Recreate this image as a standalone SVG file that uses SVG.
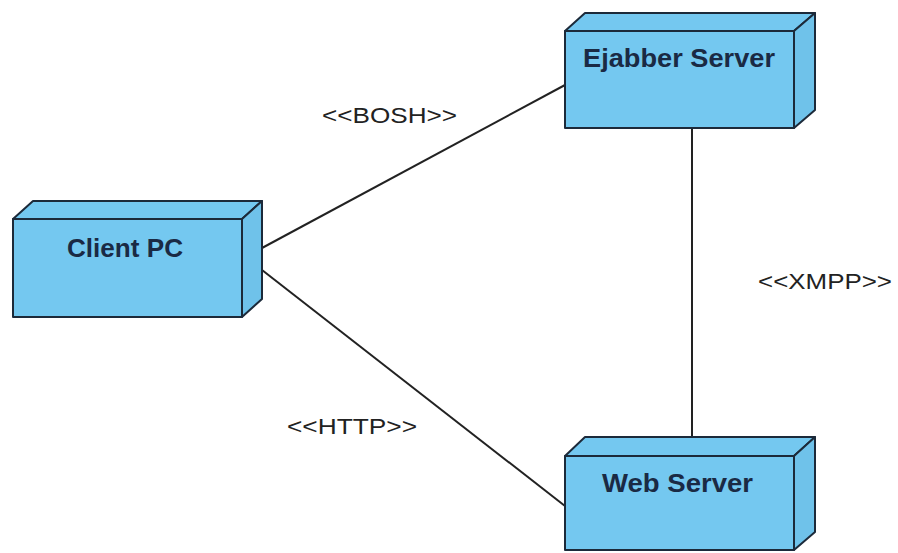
<svg xmlns="http://www.w3.org/2000/svg" width="898" height="553" viewBox="0 0 898 553">
<style>
.face{fill:#74c8f0;stroke:#1c2a3a;stroke-width:2;stroke-linejoin:round}
.side{fill:#6fc2ea;stroke:#1c2a3a;stroke-width:2;stroke-linejoin:round}
.name{font-family:"Liberation Sans",Arial,sans-serif;font-weight:bold;font-size:25px;fill:#1a2a44}
.lbl{font-family:"Liberation Sans",Arial,sans-serif;font-size:22px;fill:#222}
.conn{stroke:#222;stroke-width:2;fill:none}
</style>
<rect width="898" height="553" fill="#fff"/>
<g id="connectors">
<line class="conn" x1="262" y1="248" x2="565" y2="85"/>
<line class="conn" x1="262" y1="270" x2="565" y2="506"/>
<line class="conn" x1="692" y1="128" x2="692" y2="437"/>
<text class="lbl" x="322" y="123" textLength="135" lengthAdjust="spacingAndGlyphs">&lt;&lt;BOSH&gt;&gt;</text>
<text class="lbl" x="758" y="289" textLength="134" lengthAdjust="spacingAndGlyphs">&lt;&lt;XMPP&gt;&gt;</text>
<text class="lbl" x="287" y="434" textLength="130" lengthAdjust="spacingAndGlyphs">&lt;&lt;HTTP&gt;&gt;</text>
</g>
<g id="client-pc">
<polygon class="face" points="13,219 33,201 262,201 242,219"/>
<polygon class="side" points="242,219 262,201 262,299 242,317"/>
<rect class="face" x="13" y="219" width="229" height="98"/>
<text class="name" x="67" y="257" textLength="116" lengthAdjust="spacingAndGlyphs">Client PC</text>
</g>
<g id="ejabber-server">
<polygon class="face" points="565,31 585,13 815,13 794,31"/>
<polygon class="side" points="794,31 815,13 815,110 794,128"/>
<rect class="face" x="565" y="31" width="229" height="97"/>
<text class="name" x="583" y="67" textLength="192" lengthAdjust="spacingAndGlyphs">Ejabber Server</text>
</g>
<g id="web-server">
<polygon class="face" points="565,456 585,437 815,437 794,456"/>
<polygon class="side" points="794,456 815,437 815,532 794,550"/>
<rect class="face" x="565" y="456" width="229" height="94"/>
<text class="name" x="602" y="492" textLength="151" lengthAdjust="spacingAndGlyphs">Web Server</text>
</g>
</svg>
